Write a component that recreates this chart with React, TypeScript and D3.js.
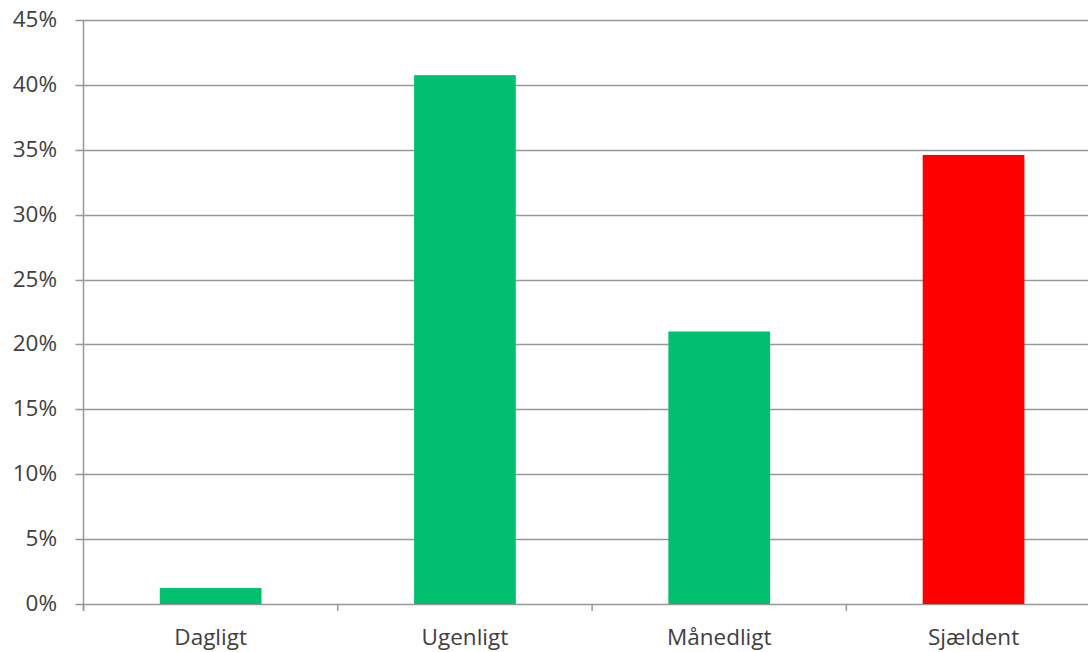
import React from "react";
import * as d3 from "d3";

const categories = ["Dagligt", "Ugenligt", "Månedligt", "Sjældent"];
const values = [1.23, 40.75, 21.0, 34.6];
const barColors = ["#00BF6F", "#00BF6F", "#00BF6F", "#FF0000"];
const yTicks = [0, 5, 10, 15, 20, 25, 30, 35, 40, 45];

const W = 1088;
const H = 652;
const left = 83.5;
const bandW = 254.3;
const top = 20;
const bottom = 604;

export default function App() {
  const x = d3
    .scaleBand<string>()
    .domain(categories)
    .range([left, left + bandW * categories.length])
    .paddingInner(0.6)
    .paddingOuter(0.3);
  const y = d3.scaleLinear().domain([0, 45]).range([bottom, top]);
  const font = "'Open Sans', 'Liberation Sans', sans-serif";
  const tickXs = d3.range(categories.length + 1).map((i) => left + i * bandW);

  return (
    <svg
      width={W}
      height={H}
      style={{ position: "absolute", left: 0, top: 0, background: "#fff" }}
    >
      {yTicks.map((t) => (
        <g key={t}>
          <line
            x1={left - 8}
            x2={W}
            y1={Math.round(y(t)) + 0.5}
            y2={Math.round(y(t)) + 0.5}
            stroke="#979797"
            strokeWidth={1.5}
          />
          <text
            x={57}
            y={y(t) + 7}
            textAnchor="end"
            fontFamily={font}
            fontSize={22.5}
            fill="#404040"
          >
            {t}%
          </text>
        </g>
      ))}
      <line x1={left} x2={left} y1={top} y2={bottom + 7} stroke="#979797" strokeWidth={1.5} />
      {tickXs.map((tx, i) => (
        <line key={i} x1={tx} x2={tx} y1={bottom} y2={bottom + 7} stroke="#979797" strokeWidth={1.5} />
      ))}
      {categories.map((c, i) => (
        <rect
          key={c}
          x={x(c)}
          y={y(values[i])}
          width={x.bandwidth()}
          height={y(0) - y(values[i])}
          fill={barColors[i]}
        />
      ))}
      {categories.map((c) => (
        <text
          key={c}
          x={(x(c) as number) + x.bandwidth() / 2}
          y={645}
          textAnchor="middle"
          fontFamily={font}
          fontSize={22.5}
          fill="#404040"
        >
          {c}
        </text>
      ))}
    </svg>
  );
}
